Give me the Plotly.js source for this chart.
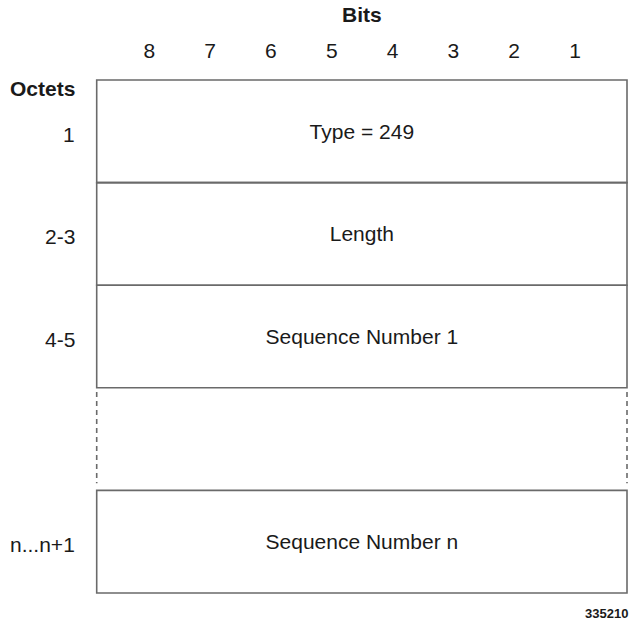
<!DOCTYPE html>
<html>
<head>
<meta charset="utf-8">
<script src="https://cdn.plot.ly/plotly-3.0.1.min.js"></script>
<style>html,body{margin:0;padding:0;background:#fff;}#chart{width:631px;height:626px;}</style>
</head>
<body>
<div id="chart"></div>
<script>
// ---- data ----
const bitLabels = [8, 7, 6, 5, 4, 3, 2, 1];
const octetLabels = ["1", "2-3", "4-5", "", "n...n+1"];
const fieldLabels = ["Type = 249", "Length", "Sequence Number 1", "", "Sequence Number n"];
const rowStyles = ["solid", "solid", "solid", "dashed", "solid"];
const bitsTitle = "Bits";
const octetsTitle = "Octets";
const figureId = "335210";

// ---- layout geometry (pixels) ----
const W = 631, H = 626;
const boxL = 96.7, boxR = 627, boxTop = 80, rowH = 102.6;
const ux = (boxR - boxL) / 8;           // px per bit-column unit
const bitFirstPx = 149.3, bitLastPx = 575; // centres of labels 8 and 1
const bitStep = (bitFirstPx - bitLastPx) / (bitLabels[0] - bitLabels[bitLabels.length - 1]);
const bitA = bitLastPx - bitStep * bitLabels[bitLabels.length - 1];
const px2bit = p => (p - bitA) / bitStep;
const py = p => (p - boxTop) / rowH;      // pixel y -> row units
const pxu = p => (p - boxL) / ux;         // pixel x -> column units

const textFont = {family: "Liberation Sans, Arial, sans-serif", size: 21, color: "#1a1a1a"};
const boldFont = {family: "Liberation Sans, Arial, sans-serif", size: 21, color: "#1a1a1a", weight: "bold"};
const lineColor = "#6a6a6a";

const shapes = [];
rowStyles.forEach((s, i) => {
  if (s === "solid") {
    shapes.push({type: "rect", xref: "x", yref: "y", x0: 0, x1: 8, y0: i, y1: i + 1,
      line: {color: lineColor, width: 1.6}, fillcolor: "rgba(0,0,0,0)"});
  } else {
    [0, 8].forEach(xv => shapes.push({type: "line", xref: "x", yref: "y", x0: xv, x1: xv,
      y0: i + 0.04, y1: i + 0.93, line: {color: lineColor, width: 1.6, dash: "5px,4px"}}));
  }
});

const traces = [
  {
    type: "scatter", mode: "text", xaxis: "x", yaxis: "y",
    x: fieldLabels.map(() => 4), y: fieldLabels.map((_, i) => i + 0.52),
    text: fieldLabels, textposition: "middle center", textfont: textFont,
    hoverinfo: "skip", showlegend: false
  },
  {
    type: "scatter", mode: "text", xaxis: "x2", yaxis: "y",
    x: bitLabels, y: bitLabels.map(() => py(53)),
    text: bitLabels.map(String), textposition: "middle center", textfont: textFont,
    hoverinfo: "skip", showlegend: false
  }
];

const annotations = octetLabels.map((t, i) => ({
  xref: "x", yref: "y", x: pxu(76.5), y: i + 0.53, text: t, showarrow: false,
  xanchor: "right", yanchor: "middle", font: textFont
}));
annotations.push({xref: "x", yref: "y", x: pxu(77), y: py(88), text: octetsTitle, showarrow: false,
  xanchor: "right", yanchor: "middle", font: boldFont});
annotations.push({xref: "x", yref: "y", x: 4, y: py(14), text: bitsTitle, showarrow: false,
  xanchor: "center", yanchor: "middle", font: boldFont});
annotations.push({xref: "x", yref: "y", x: pxu(630), y: py(613), text: figureId, showarrow: false,
  xanchor: "right", yanchor: "middle",
  font: {family: "Liberation Sans, Arial, sans-serif", size: 13, color: "#1a1a1a", weight: "bold"}});

const layout = {
  width: W, height: H,
  margin: {l: 0, r: 0, t: 0, b: 0, pad: 0},
  paper_bgcolor: "#ffffff", plot_bgcolor: "#ffffff",
  showlegend: false,
  xaxis: {range: [pxu(0), pxu(W)], visible: false, fixedrange: true},
  xaxis2: {range: [px2bit(0), px2bit(W)], overlaying: "x", visible: false, fixedrange: true},
  yaxis: {range: [py(H), py(0)], visible: false, fixedrange: true},
  shapes: shapes,
  annotations: annotations
};

Plotly.newPlot("chart", traces, layout, {displayModeBar: false, staticPlot: true});
</script>
</body>
</html>
